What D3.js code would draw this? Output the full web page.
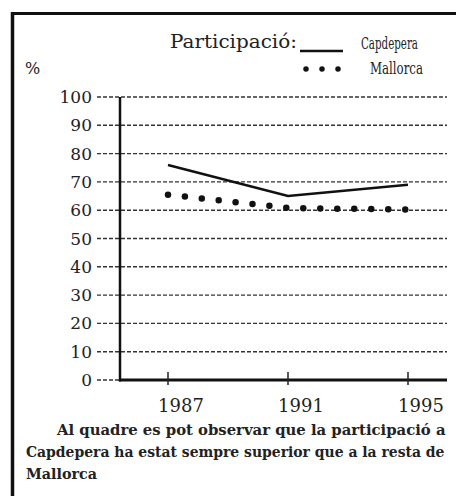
<!DOCTYPE html>
<html>
<head>
<meta charset="utf-8">
<script src="https://cdn.jsdelivr.net/npm/d3@7"></script>
<style>
  body { margin: 0; background: #fff; }
  svg { display: block; }
</style>
</head>
<body>
<svg id="chart" width="456" height="496" font-family="'DejaVu Serif', 'Liberation Serif', serif"></svg>
<script>
// data
var years = [1987, 1991, 1995];
var capdepera = [76, 65, 69];
var mallorca = [65.5, 60.8, 60.2];
var yTicks = [0, 10, 20, 30, 40, 50, 60, 70, 80, 90, 100];
var caption = [
  "Al quadre es pot observar que la participació a",
  "Capdepera ha estat sempre superior que a la resta de",
  "Mallorca"
];

var serif = "'DejaVu Serif', 'Liberation Serif', serif";
var svg = d3.select("#chart");

var x = d3.scaleLinear().domain([1987, 1995]).range([168, 408]);
var y = d3.scaleLinear().domain([0, 100]).range([380, 97]);

// squeeze a text horizontally so it spans w pixels from (tx, ty)
function fitText(sel, tx, ty, w){
  sel.each(function(){
    var nat = this.getComputedTextLength();
    var k = w / nat;
    d3.select(this)
      .attr("x", 0).attr("y", 0)
      .attr("transform", "translate(" + tx + "," + ty + ") scale(" + k + ",1)");
  });
}

// frame (cropped on right and bottom)
svg.append("line")
  .attr("x1", 12.5).attr("x2", 12.5).attr("y1", 12).attr("y2", 496)
  .style("stroke", "#111").style("stroke-width", 3.5);
svg.append("line")
  .attr("x1", 11).attr("x2", 456).attr("y1", 13.5).attr("y2", 13.5)
  .style("stroke", "#111").style("stroke-width", 3);

// dashed gridlines
svg.append("g").selectAll("line")
  .data(yTicks)
  .enter().append("line")
    .attr("x1", 97).attr("x2", 447)
    .attr("y1", function(d){ return y(d); })
    .attr("y2", function(d){ return y(d); })
    .style("stroke", "#333")
    .style("stroke-width", 1.4)
    .style("stroke-dasharray", "4,2");

// y tick labels
svg.append("g").selectAll("text")
  .data(yTicks)
  .enter().append("text")
    .attr("x", 92)
    .attr("y", function(d){ return y(d) + 6; })
    .attr("text-anchor", "end")
    .attr("font-family", serif)
    .attr("font-size", "17px")
    .style("fill", "#222")
    .text(function(d){ return d; });

// axes
svg.append("line")
  .attr("x1", 120).attr("x2", 120).attr("y1", y(100)).attr("y2", y(0) + 1.5)
  .style("stroke", "#111").style("stroke-width", 2.5);
svg.append("line")
  .attr("x1", 119).attr("x2", 447).attr("y1", y(0)).attr("y2", y(0))
  .style("stroke", "#111").style("stroke-width", 3);

// x ticks
svg.append("g").selectAll("line")
  .data(years)
  .enter().append("line")
    .attr("x1", function(d){ return x(d); })
    .attr("x2", function(d){ return x(d); })
    .attr("y1", y(0) - 8).attr("y2", y(0) + 5)
    .style("stroke", "#222").style("stroke-width", 1.5);

svg.append("g").selectAll("text")
  .data(years)
  .enter().append("text")
    .attr("x", function(d){ return x(d) + 13; })
    .attr("y", 412)
    .attr("text-anchor", "middle")
    .attr("font-family", serif)
    .attr("font-size", "18px")
    .style("fill", "#222")
    .text(function(d){ return d; });

// series
var line = d3.line()
  .x(function(d, i){ return x(years[i]); })
  .y(function(d){ return y(d); });

svg.append("path")
  .datum(capdepera)
  .attr("d", line)
  .style("fill", "none")
  .style("stroke", "#111")
  .style("stroke-width", 2.5);

svg.append("path")
  .datum(mallorca)
  .attr("d", line)
  .style("fill", "none")
  .style("stroke", "#111")
  .style("stroke-width", 6.5)
  .style("stroke-linecap", "round")
  .style("stroke-dasharray", "0,17");

// legend
svg.append("text")
  .attr("x", 25).attr("y", 74)
  .attr("font-family", serif)
  .attr("font-size", "16px")
  .style("fill", "#222")
  .text("%");

svg.append("text")
  .attr("font-family", serif)
  .attr("font-size", "19px")
  .style("fill", "#222")
  .text("Participació:")
  .call(fitText, 170, 48, 127);

svg.append("line")
  .attr("x1", 300).attr("x2", 343).attr("y1", 51).attr("y2", 51)
  .style("stroke", "#111").style("stroke-width", 2.5);

svg.append("line")
  .attr("x1", 306).attr("x2", 340).attr("y1", 69).attr("y2", 69)
  .style("stroke", "#111")
  .style("stroke-width", 5.5)
  .style("stroke-linecap", "round")
  .style("stroke-dasharray", "0,16");

svg.append("text")
  .attr("font-family", serif)
  .attr("font-size", "17px")
  .style("fill", "#222")
  .text("Capdepera")
  .call(fitText, 361, 49, 57);

svg.append("text")
  .attr("font-family", serif)
  .attr("font-size", "17px")
  .style("fill", "#222")
  .text("Mallorca")
  .call(fitText, 370, 74, 53);

// caption under the chart
var capX = [57, 26, 26];
var capW = [389, 419, 71];
var capY = [435, 457, 479];
svg.append("g").selectAll("text")
  .data(caption)
  .enter().append("text")
    .attr("font-family", serif)
    .attr("font-size", "15px")
    .attr("font-weight", "bold")
    .style("fill", "#222")
    .text(function(d){ return d; })
    .each(function(d, i){
      d3.select(this).call(fitText, capX[i], capY[i], capW[i]);
    });
</script>
</body>
</html>
